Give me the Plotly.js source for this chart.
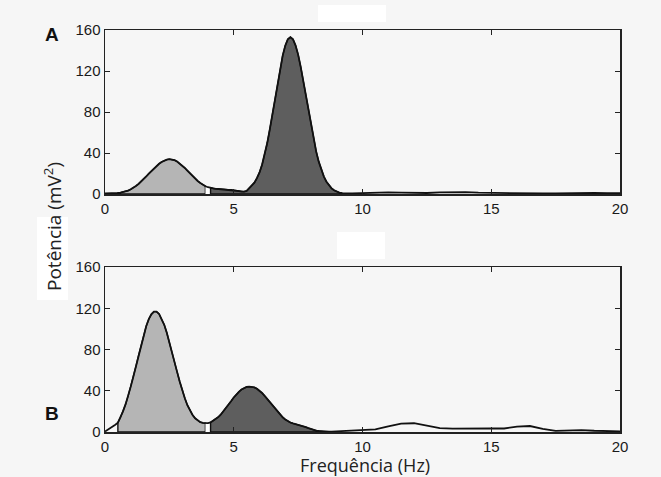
<!DOCTYPE html>
<html>
<head>
<meta charset="utf-8">
<script src="https://cdn.plot.ly/plotly-3.0.1.min.js"></script>
<style>html,body{margin:0;padding:0;background:#f6f6f6;}#chart{width:661px;height:477px;}</style>
</head>
<body>
<div id="chart"></div>
<script>
// Frequency grid (Hz)
const freq = [
  0.0,0.1,0.2,0.3,0.4,0.5,0.6,0.7,0.8,0.9,
  1.0,1.1,1.2,1.3,1.4,1.5,1.6,1.7,1.8,1.9,
  2.0,2.1,2.2,2.3,2.4,2.5,2.6,2.7,2.8,2.9,
  3.0,3.1,3.2,3.3,3.4,3.5,3.6,3.7,3.8,3.9,
  4.0,4.1,4.2,4.3,4.4,4.5,4.6,4.7,4.8,4.9,
  5.0,5.1,5.2,5.3,5.4,5.5,5.6,5.7,5.8,5.9,
  6.0,6.1,6.2,6.3,6.4,6.5,6.6,6.7,6.8,6.9,
  7.0,7.1,7.2,7.3,7.4,7.5,7.6,7.7,7.8,7.9,
  8.0,8.1,8.2,8.3,8.4,8.5,8.6,8.7,8.8,8.9,
  9.0,9.1,9.2,9.3,9.4,9.5,9.6,9.7,9.8,9.9,
  10.0,10.5,11.0,11.5,12.0,12.5,13.0,13.5,14.0,14.5,
  15.0,15.5,16.0,16.5,17.0,17.5,18.0,18.5,19.0,19.5,20.0
];

// Panel A power (mV^2)
const powerA = [
  0.5,0.5,0.6,0.7,0.8,1.0,1.3,1.8,2.5,3.4,
  4.6,6.0,7.8,9.8,12.0,14.5,17.1,19.8,22.4,25.0,
  27.3,29.5,31.3,32.7,33.6,34.0,33.8,33.0,31.7,29.9,
  27.8,25.4,22.8,20.1,17.5,15.0,12.7,10.7,9.0,7.6,
  6.6,5.9,5.4,5.1,4.9,4.7,4.6,4.5,4.3,4.1,
  3.8,3.3,2.8,2.4,2.3,3.0,5.5,8.0,11.0,15.5,
  21.0,28.5,38.0,49.7,63.0,77.5,93.0,108.0,122.5,135.0,
  144.7,151.0,153.0,151.0,145.0,136.0,124.0,110.5,96.0,81.0,
  66.6,53.4,41.6,31.6,23.5,17.0,12.0,8.2,5.5,3.6,
  2.3,1.4,0.9,0.6,0.5,0.5,0.6,0.7,0.8,0.9,
  1.0,1.2,1.6,1.3,0.9,1.0,1.6,2.0,1.8,1.3,
  1.0,0.8,0.6,0.5,0.5,0.7,1.0,1.1,1.0,0.9,0.8
];

// Panel B power (mV^2)
const powerB = [
  0.5,2.0,3.5,5.0,7.0,9.0,14.0,20.0,27.0,35.0,
  44.0,53.6,63.7,74.0,84.4,94.0,102.5,109.4,114.2,116.7,
  116.7,114.5,110.0,104.0,96.3,87.4,77.8,68.0,58.3,49.0,
  40.4,32.7,26.0,20.5,16.5,13.3,11.0,9.5,8.8,8.5,
  8.7,9.3,11.0,12.5,14.5,17.0,20.0,23.0,26.5,30.0,
  33.5,36.5,39.0,41.2,42.8,43.7,44.0,44.0,43.3,42.0,
  40.2,37.8,35.0,32.0,28.8,25.6,22.5,19.5,16.8,14.3,
  12.2,10.5,9.2,8.3,7.7,7.2,6.6,5.8,4.8,3.8,
  2.8,2.0,1.4,1.0,0.7,0.5,0.4,0.4,0.4,0.5,
  0.5,0.6,0.7,0.8,0.9,1.0,1.1,1.2,1.3,1.4,
  1.5,2.5,5.5,8.2,8.5,6.0,3.8,3.3,3.6,4.0,
  3.6,3.4,5.2,5.8,3.0,1.0,1.2,1.8,1.2,0.8,0.6
];

// Frequency bands [start, end] (Hz)
const bandsA = [[0.5, 3.9], [3.9, 4.1], [4.1, 9.2]];
const bandsB = [[0.5, 3.9], [3.9, 4.1], [4.1, 8.5]];
const bandColors = ['#b5b5b5', '#ffffff', '#5e5e5e'];
const bandLines = [1.4, 0, 1.4];

const xTicks = [0, 5, 10, 15, 20];
const yTicks = [0, 40, 80, 120, 160];

function bandTrace(xs, ys, a, b, color, lw, xa, ya) {
  const px = [a], py = [0];
  for (let i = 0; i < xs.length; i++) {
    if (xs[i] >= a - 1e-9 && xs[i] <= b + 1e-9) { px.push(xs[i]); py.push(ys[i]); }
  }
  px.push(b); py.push(0); px.push(a); py.push(0);
  return {x: px, y: py, xaxis: xa, yaxis: ya, type: 'scatter', mode: 'lines',
    fill: 'toself', fillcolor: color,
    line: {color: lw > 0 ? '#111' : 'rgba(0,0,0,0)', width: lw || 0.1},
    hoverinfo: 'skip', showlegend: false};
}

const traces = [];
bandsA.forEach((bd, i) => traces.push(bandTrace(freq, powerA, bd[0], bd[1], bandColors[i], bandLines[i], 'x', 'y')));
bandsB.forEach((bd, i) => traces.push(bandTrace(freq, powerB, bd[0], bd[1], bandColors[i], bandLines[i], 'x2', 'y2')));
traces.push({x: freq, y: powerA, xaxis: 'x', yaxis: 'y', type: 'scatter', mode: 'lines',
  line: {color: '#111', width: 1.8}, showlegend: false});
traces.push({x: freq, y: powerB, xaxis: 'x2', yaxis: 'y2', type: 'scatter', mode: 'lines',
  line: {color: '#111', width: 1.8}, showlegend: false});

const tickFont = {family: 'Liberation Sans, Arial, sans-serif', size: 15, color: '#1a1a1a'};
const axCommon = {
  showline: true, linecolor: '#222', linewidth: 1.5, mirror: 'ticks',
  ticks: 'inside', ticklen: 5, tickwidth: 1, tickcolor: '#222',
  showgrid: false, zeroline: false, tickfont: tickFont, fixedrange: true
};

const layout = {
  width: 661, height: 477,
  margin: {l: 105, r: 41, t: 30, b: 45},
  paper_bgcolor: '#f6f6f6', plot_bgcolor: '#f6f6f6',
  showlegend: false,
  xaxis: Object.assign({}, axCommon, {domain: [0, 1], range: [0, 20], tickvals: xTicks, anchor: 'y'}),
  yaxis: Object.assign({}, axCommon, {domain: [0.592, 1], range: [0, 160], tickvals: yTicks, anchor: 'x'}),
  xaxis2: Object.assign({}, axCommon, {domain: [0, 1], range: [0, 20], tickvals: xTicks, anchor: 'y2'}),
  yaxis2: Object.assign({}, axCommon, {domain: [0, 0.4104], range: [0, 160], tickvals: yTicks, anchor: 'x2'}),
  annotations: [
    {text: '<b>A</b>', xref: 'paper', yref: 'paper', x: -0.103, y: 0.99, xanchor: 'center', yanchor: 'middle',
      showarrow: false, font: {family: 'Liberation Sans, Arial, sans-serif', size: 19, color: '#111'}},
    {text: '<b>B</b>', xref: 'paper', yref: 'paper', x: -0.103, y: 0.045, xanchor: 'center', yanchor: 'middle',
      showarrow: false, font: {family: 'Liberation Sans, Arial, sans-serif', size: 19, color: '#111'}},
    {text: 'Potência (mV<sup>2</sup>)', xref: 'paper', yref: 'paper', x: -0.101, y: 0.5124, textangle: -90,
      xanchor: 'center', yanchor: 'middle', showarrow: false,
      font: {family: 'Open Sans, sans-serif', size: 19, color: '#222'}},
    {text: 'Frequência (Hz)', xref: 'paper', yref: 'paper', x: 0.505, y: -0.083,
      xanchor: 'center', yanchor: 'middle', showarrow: false,
      font: {family: 'Open Sans, sans-serif', size: 18, color: '#222'}}
  ],
  shapes: [
    {type: 'rect', xref: 'paper', yref: 'paper', x0: 0.4136, x1: 0.5456, y0: 1.0199, y1: 1.062,
      fillcolor: '#ffffff', line: {width: 0}, layer: 'above'},
    {type: 'rect', xref: 'paper', yref: 'paper', x0: 0.4505, x1: 0.5437, y0: 0.4303, y1: 0.4975,
      fillcolor: '#ffffff', line: {width: 0}, layer: 'above'},
    {type: 'rect', xref: 'paper', yref: 'paper', x0: -0.132, x1: -0.0718, y0: 0.3284, y1: 0.5348,
      fillcolor: '#ffffff', line: {width: 0}, layer: 'above'}
  ]
};

Plotly.newPlot('chart', traces, layout, {displayModeBar: false, staticPlot: true});
</script>
</body>
</html>
